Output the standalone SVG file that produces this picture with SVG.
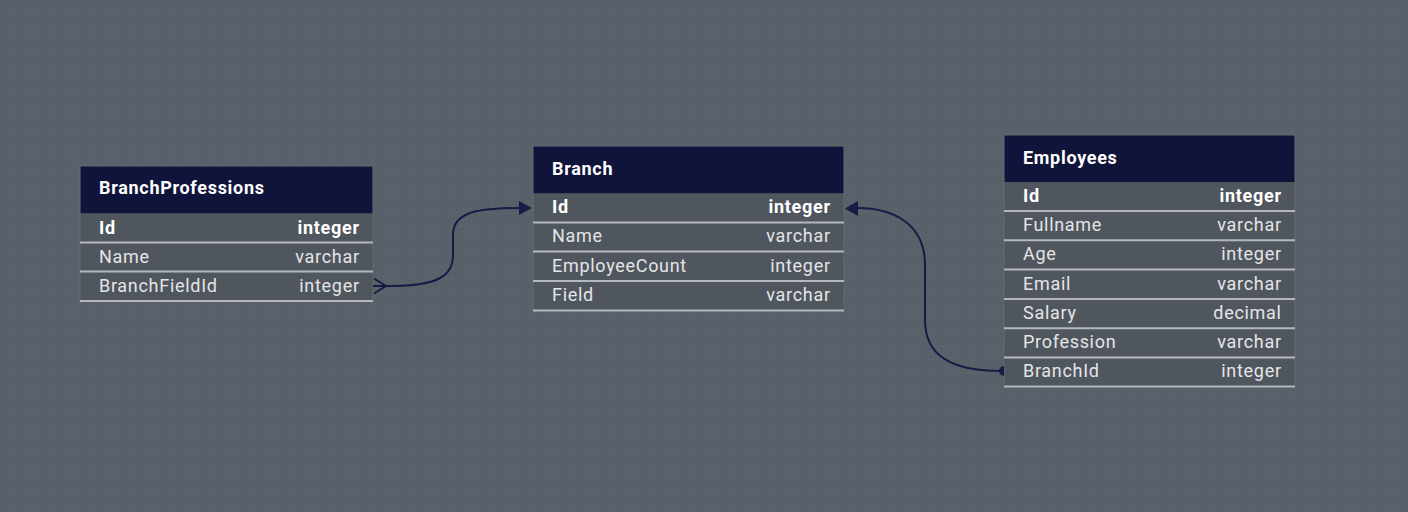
<svg xmlns="http://www.w3.org/2000/svg" width="1408" height="512" viewBox="0 0 1408 512">
<defs>
<pattern id="grid" width="13.33" height="13.33" patternUnits="userSpaceOnUse">
<path d="M13.33 0 V13.33 M0 13.33 H13.33" fill="none" stroke="#5f666f" stroke-width="1"/>
</pattern>
<style>
.hdr{fill:#11143a}
.row{fill:#50565e}
.sep{stroke:#b4b8be;stroke-width:2}
.frame{fill:none;stroke:#646b74;stroke-width:1}
.title{font-family:Roboto,"Liberation Sans",sans-serif;font-size:18px;letter-spacing:0.7px;font-weight:bold;fill:#ffffff}
.f{font-family:Roboto,"Liberation Sans",sans-serif;font-size:18px;letter-spacing:0.7px;fill:#e4e5e7}
.b{font-weight:bold;fill:#ffffff}
.t{text-anchor:end}
.conn{fill:none;stroke:#181b44;stroke-width:2}
.head{fill:#181b44}
</style>
</defs>
<rect width="1408" height="512" fill="#59606a"/>
<rect width="1408" height="512" fill="url(#grid)"/>

<g id="BranchProfessions">
<rect class="hdr" x="80" y="166" width="293" height="47.5"/>
<rect class="row" x="80" y="213.5" width="293" height="87.5"/>
<rect class="frame" x="80" y="166" width="293" height="135"/>
<line class="sep" x1="80" y1="242.5" x2="373" y2="242.5"/>
<line class="sep" x1="80" y1="271.5" x2="373" y2="271.5"/>
<line class="sep" x1="80" y1="301" x2="373" y2="301"/>
<text class="title" x="99" y="194">BranchProfessions</text>
<text class="f b" x="99" y="234">Id</text><text class="f b t" x="359.7" y="234">integer</text>
<text class="f" x="99" y="262.5">Name</text><text class="f t" x="359.7" y="262.5">varchar</text>
<text class="f" x="99" y="291.5">BranchFieldId</text><text class="f t" x="359.7" y="291.5">integer</text>
</g>

<g id="Branch">
<rect class="hdr" x="533" y="146" width="311" height="47.5"/>
<rect class="row" x="533" y="193.5" width="311" height="117"/>
<rect class="frame" x="533" y="146" width="311" height="164.5"/>
<line class="sep" x1="533" y1="222.5" x2="844" y2="222.5"/>
<line class="sep" x1="533" y1="251.5" x2="844" y2="251.5"/>
<line class="sep" x1="533" y1="281" x2="844" y2="281"/>
<line class="sep" x1="533" y1="310.5" x2="844" y2="310.5"/>
<text class="title" x="552" y="174.5">Branch</text>
<text class="f b" x="552" y="213">Id</text><text class="f b t" x="830.7" y="213">integer</text>
<text class="f" x="552" y="242">Name</text><text class="f t" x="830.7" y="242">varchar</text>
<text class="f" x="552" y="271.5">EmployeeCount</text><text class="f t" x="830.7" y="271.5">integer</text>
<text class="f" x="552" y="300.5">Field</text><text class="f t" x="830.7" y="300.5">varchar</text>
</g>

<g id="Employees">
<rect class="hdr" x="1004" y="135" width="291" height="47"/>
<rect class="row" x="1004" y="182" width="291" height="204.5"/>
<rect class="frame" x="1004" y="135" width="291" height="251.5"/>
<line class="sep" x1="1004" y1="211" x2="1295" y2="211"/>
<line class="sep" x1="1004" y1="240.3" x2="1295" y2="240.3"/>
<line class="sep" x1="1004" y1="269.6" x2="1295" y2="269.6"/>
<line class="sep" x1="1004" y1="298.9" x2="1295" y2="298.9"/>
<line class="sep" x1="1004" y1="328.2" x2="1295" y2="328.2"/>
<line class="sep" x1="1004" y1="357.5" x2="1295" y2="357.5"/>
<line class="sep" x1="1004" y1="386.5" x2="1295" y2="386.5"/>
<text class="title" x="1023" y="164">Employees</text>
<text class="f b" x="1023" y="201.5">Id</text><text class="f b t" x="1281.7" y="201.5">integer</text>
<text class="f" x="1023" y="230.5">Fullname</text><text class="f t" x="1281.7" y="230.5">varchar</text>
<text class="f" x="1023" y="260">Age</text><text class="f t" x="1281.7" y="260">integer</text>
<text class="f" x="1023" y="289.5">Email</text><text class="f t" x="1281.7" y="289.5">varchar</text>
<text class="f" x="1023" y="318.5">Salary</text><text class="f t" x="1281.7" y="318.5">decimal</text>
<text class="f" x="1023" y="348">Profession</text><text class="f t" x="1281.7" y="348">varchar</text>
<text class="f" x="1023" y="377">BranchId</text><text class="f t" x="1281.7" y="377">integer</text>
</g>

<g id="connectors">
<path class="conn" d="M373 286 L390 286 C440 286 453 275 453 255 L453 235 C453 215 470 208 520 208"/>
<path class="conn" d="M374 278.5 L386 286 L374 293.5"/>
<path class="head" d="M532 208 L519 201 L519 215 Z"/>
<path class="conn" d="M1002 371 C950 371 925 355 925 320 L925 265 C925 225 895 208 857 208"/>
<path class="head" d="M845 208.5 L858 201 L858 216 Z"/>
<path class="head" d="M1004 366 A5 5 0 0 0 1004 376 Z"/>
</g>
</svg>
